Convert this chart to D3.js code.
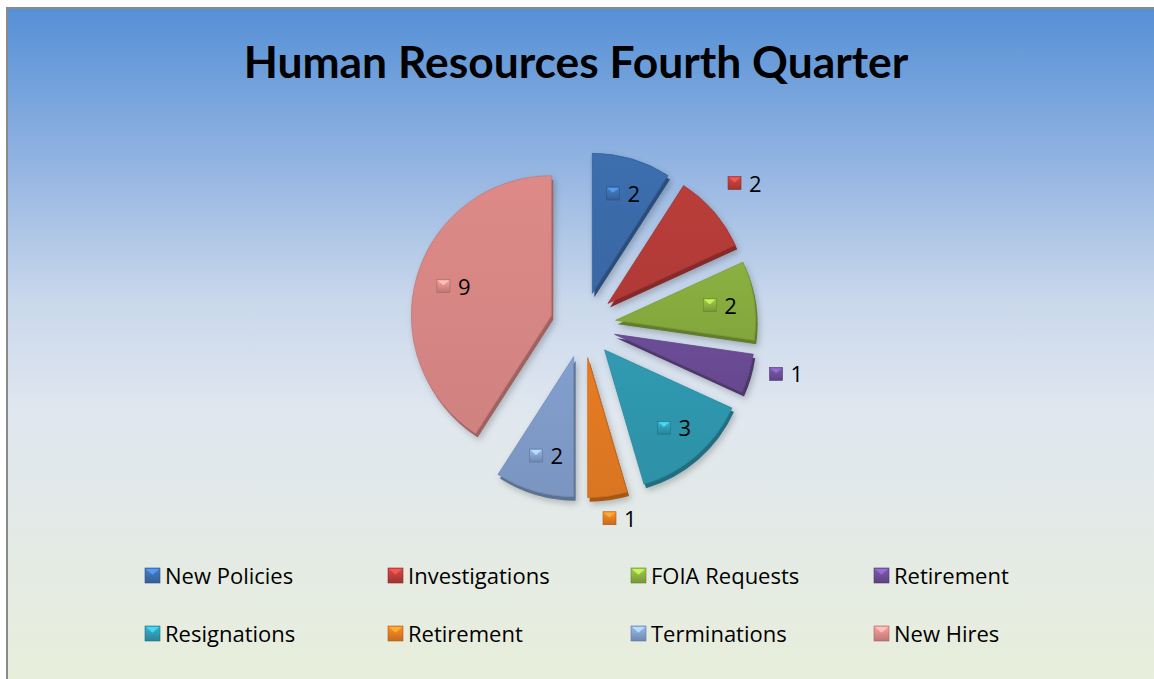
<!DOCTYPE html>
<html><head><meta charset="utf-8">
<script src="https://cdn.jsdelivr.net/npm/d3@7"></script>
<style>html,body{margin:0;padding:0;background:#fff;overflow:hidden}svg{display:block}</style>
</head><body>
<svg id="c" width="1154" height="679"></svg>
<script>
const categories = ["New Policies","Investigations","FOIA Requests","Retirement","Resignations","Retirement","Terminations","New Hires"];
const values = [2,2,2,1,3,1,2,9];
const colors = ["#3b6cab","#b73c38","#89ad3f","#6a4c94","#2f97ae","#e37a22","#809cc9","#d98886"];
const labelPlacement = ["inside","outside","inside","outside","inside","outside","inside","inside"];
const title = "Human Resources Fourth Quarter";

const svg = d3.select("#c");
const defs = svg.append("defs");
const bg = defs.append("linearGradient").attr("id","bg").attr("x1",0).attr("y1",0).attr("x2",0).attr("y2",1);
[[0,"#5590d6"],[0.2,"#8cb0e0"],[0.42,"#cad8ec"],[0.58,"#e0e7ef"],[1,"#e9efd9"]].forEach(s=>bg.append("stop").attr("offset",s[0]).attr("stop-color",s[1]));
svg.append("rect").attr("x",7).attr("y",8).attr("width",1170).attr("height",700).attr("fill","url(#bg)").attr("stroke","#8a8a8a").attr("stroke-width",2);

const sh = defs.append("filter").attr("id","sh").attr("x","-20%").attr("y","-20%").attr("width","140%").attr("height","140%");
sh.append("feDropShadow").attr("dx",2).attr("dy",3).attr("stdDeviation",3).attr("flood-color","#000").attr("flood-opacity",0.22);

// title
const t = svg.append("text").attr("x",576).attr("y",78).attr("text-anchor","middle")
  .attr("font-family","Lato, 'Open Sans', sans-serif").attr("font-weight","bold").attr("font-size",40).attr("fill","#000").text(title);
let w = t.node().getComputedTextLength();
t.attr("font-size", 40*665/w);

const cx = 583, cy = 325, r = 140, explode = 33;
const pie = d3.pie().sort(null).value(d=>d).startAngle(0).endAngle(2*Math.PI);
const arcs = pie(values);
const arc = d3.arc().innerRadius(0).outerRadius(r);

colors.forEach((c,i)=>{
  const g = defs.append("linearGradient").attr("id","g"+i).attr("x1",0).attr("y1",0).attr("x2",0).attr("y2",1);
  g.append("stop").attr("offset",0).attr("stop-color",d3.color(c).brighter(0.05));
  g.append("stop").attr("offset",1).attr("stop-color",d3.color(c).darker(0.12));
  const k = defs.append("linearGradient").attr("id","k"+i).attr("x1",0).attr("y1",0).attr("x2",0).attr("y2",1);
  k.append("stop").attr("offset",0).attr("stop-color",d3.color(c).brighter(0.5));
  k.append("stop").attr("offset",1).attr("stop-color",d3.color(c).darker(0.4));
});

const pg = svg.append("g").attr("transform",`translate(${cx},${cy})`);
arcs.forEach((a,i)=>{
  const mid = (a.startAngle+a.endAngle)/2;
  const ox = explode*Math.sin(mid), oy = -explode*Math.cos(mid);
  const s = pg.append("g").attr("transform",`translate(${ox},${oy})`).attr("filter","url(#sh)");
  s.append("path").attr("d",arc(a)).attr("transform","translate(2,4)").attr("fill",d3.color(colors[i]).darker(0.9));
  s.append("path").attr("d",arc(a)).attr("fill","url(#g"+i+")").attr("stroke",d3.color(colors[i]).darker(0.3)).attr("stroke-width",0.8);
});

function key(g, x, y, size, i){
  const kg = g.append("g").attr("transform",`translate(${x},${y})`);
  kg.append("rect").attr("width",size).attr("height",size).attr("fill","url(#k"+i+")").attr("stroke",d3.color(colors[i]).darker(0.8)).attr("stroke-width",0.6);
  kg.append("path").attr("d",`M1,1 L${size-1},1 L${size/2},${size*0.45} Z`).attr("fill",d3.color(colors[i]).brighter(1.1)).attr("opacity",0.85);
}

// data labels
const lg = svg.append("g").attr("transform",`translate(${cx},${cy})`);
arcs.forEach((a,i)=>{
  const mid = (a.startAngle+a.endAngle)/2;
  const out = labelPlacement[i]!=="inside";
  const rr = explode + (out ? 1.22*r : 0.74*r);
  const x = rr*Math.sin(mid) + (out ? 6 : 0), y = -rr*Math.cos(mid) - (out ? 8 : 0);
  key(lg, x-15, y-7, 13, i);
  lg.append("text").attr("x",x+6).attr("y",y+8).attr("font-family","'Open Sans', sans-serif").attr("font-size",22).attr("fill","#000").text(values[i]);
});

// legend
const legX = d3.scalePoint().domain([0,1,2,3]).range([145,874]);
const legY = d3.scalePoint().domain([0,1]).range([576,634]);
const leg = svg.append("g");
categories.forEach((c,i)=>{
  const col = i%4, row = Math.floor(i/4);
  const x = legX(col), y = legY(row);
  key(leg, x, y-8, 15, i);
  leg.append("text").attr("x",x+20).attr("y",y+8).attr("font-family","'Open Sans', sans-serif").attr("font-size",22).attr("fill","#000").text(c);
});
</script>
</body></html>
